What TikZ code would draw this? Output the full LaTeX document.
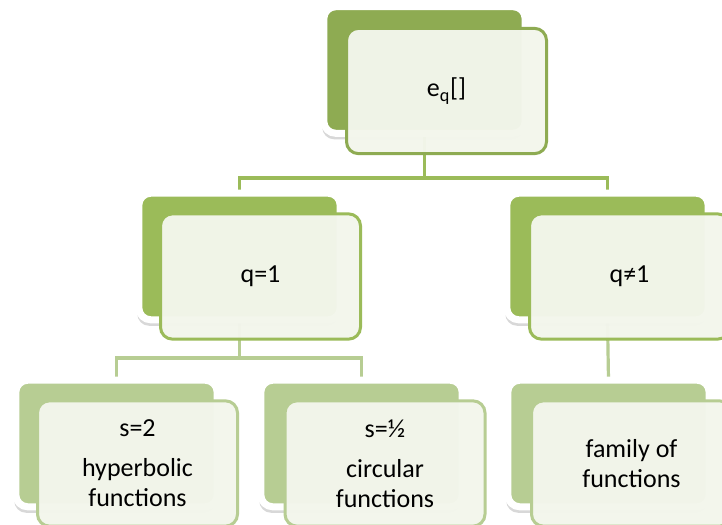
\documentclass[tikz,border=0pt]{standalone}
\usepackage{fontspec}
\setmainfont{Carlito}
\usetikzlibrary{shadows}
\definecolor{gTop}{HTML}{8EAB52}
\definecolor{gMid}{HTML}{9BBB59}
\definecolor{gLow}{HTML}{B7CD93}
\definecolor{frontfill}{HTML}{F3F6EC}
\tikzset{
  backbox/.style={draw=white, line width=5.25pt, rounded corners=9pt,
    minimum width=151pt, minimum height=95pt, inner sep=0pt,
    drop shadow={shadow xshift=-1.2pt, shadow yshift=-4.5pt, opacity=0.3}},
  frontbox/.style={draw=#1, line width=2.25pt, rounded corners=9pt,
    fill=frontfill, fill opacity=0.97, text opacity=1,
    minimum width=150pt, minimum height=94pt, inner sep=2pt,
    align=center, font=\fontsize{19.5}{22.5}\selectfont},
  conn/.style={draw=#1, line width=2.4pt},
}
\begin{document}
\begin{tikzpicture}[x=0.75pt, y=-0.75pt]
\useasboundingbox (0,0) rectangle (722,525);
\clip (0,0) rectangle (722,525);
\fill[white] (0,0) rectangle (722,525);
% anchor coordinates for connector levels
\coordinate (j1) at (0,178);
\coordinate (j2) at (0,358);
% positions of back boxes
\path (424.5,70) node[minimum width=151pt, minimum height=95pt, inner sep=0pt] (tbpos) {};
\path (239.5,256.5) node[minimum width=151pt, minimum height=95pt, inner sep=0pt] (mlpos) {};
\path (607.5,256.5) node[minimum width=151pt, minimum height=95pt, inner sep=0pt] (mrpos) {};
\path (116.5,443.5) node[minimum width=151pt, minimum height=95pt, inner sep=0pt] (b1pos) {};
\path (361.5,443.5) node[minimum width=151pt, minimum height=95pt, inner sep=0pt] (b2pos) {};
\path (608.5,443.5) node[minimum width=151pt, minimum height=95pt, inner sep=0pt] (b3pos) {};
% connectors
\draw[conn=gMid] (tbpos.south) -- (tbpos.south |- j1) -| (mlpos.north);
\draw[conn=gMid] (tbpos.south |- j1) -| (mrpos.north);
\draw[conn=gLow] (mlpos.south) -- (mlpos.south |- j2) -| (b1pos.north);
\draw[conn=gLow] (mlpos.south |- j2) -| (b2pos.north);
\draw[conn=gLow] (mrpos.south) -- (b3pos.north);
% back boxes
\node[backbox, fill=gTop] (tb) at (tbpos) {};
\node[backbox, fill=gMid] (ml) at (mlpos) {};
\node[backbox, fill=gMid] (mr) at (mrpos) {};
\node[backbox, fill=gLow] (b1) at (b1pos) {};
\node[backbox, fill=gLow] (b2) at (b2pos) {};
\node[backbox, fill=gLow] (b3) at (b3pos) {};
% front boxes
\node[frontbox=gTop] (tf) at (446.5,91) {e\textsubscript{q}[]};
\node[frontbox=gMid] (mlf) at (260.5,276.5) {q=1};
\node[frontbox=gMid] (mrf) at (629.5,276.5) {q≠1};
\node[frontbox=gLow] (b1f) at (137.5,463.5) {s=2\\[7.5pt]hyperbolic\\functions};
\node[frontbox=gLow] (b2f) at (385,463.5) {s=½\\[7.5pt]circular\\functions};
\node[frontbox=gLow] (b3f) at (631.5,463.5) {family of\\functions};
\end{tikzpicture}
\end{document}
